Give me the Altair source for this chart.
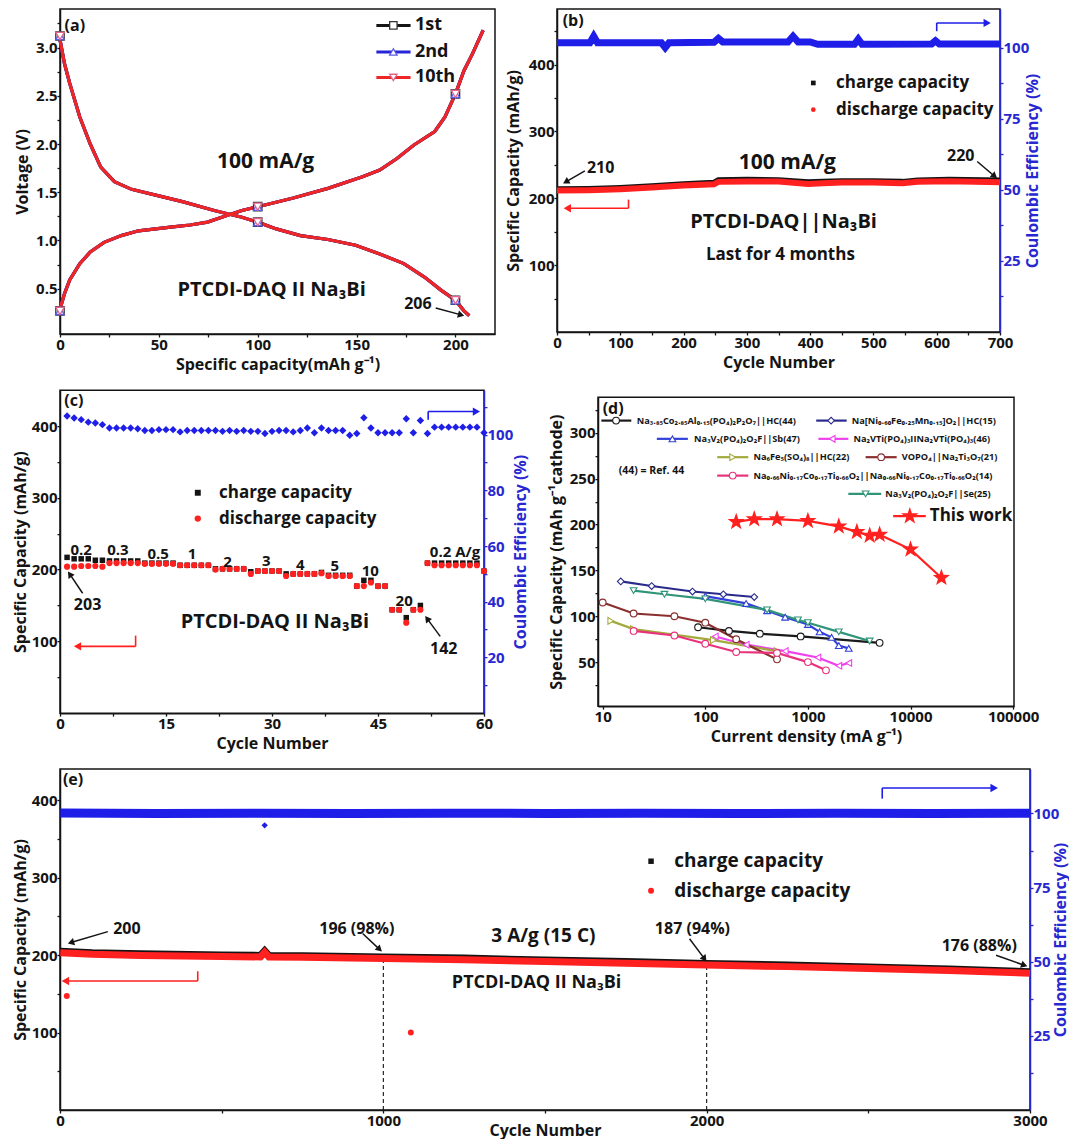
import math
import altair as alt
import pandas as pd

FONT = "Open Sans"
K = "#141414"
RED = "#ff2020"
BLUE = "#1e1ee8"
AXBLUE = "#2828d0"

# ---------------- panel (a) data ----------------
A_CYCLES = ["1st", "2nd", "10th"]
A_LINE_COLORS = ["#151515", "#2626d8", "#ee2626"]
A_MARK_STROKES = ["#333333", "#5b5be6", "#e0668e"]
A_SHAPES = ["square", "triangle-up", "triangle-down"]
A_CHG_CAP = [0, 2.3, 4.9, 10, 15.3, 22.3, 31, 39.7, 57, 65.8, 74.6, 83.3, 92, 100, 118, 135.5, 153, 161.7, 170.4, 179, 189.5, 194.7, 200, 204.3, 208.7, 214]
A_CHG_V = [0.29, 0.45, 0.59, 0.76, 0.88, 0.98, 1.05, 1.10, 1.14, 1.16, 1.19, 1.25, 1.31, 1.35, 1.44, 1.54, 1.66, 1.73, 1.85, 1.99, 2.13, 2.28, 2.52, 2.76, 2.94, 3.18]
A_DIS_CAP = [0, 2.3, 4.9, 10, 15.3, 20.6, 27.5, 36.2, 48.4, 62.4, 78, 92, 100, 109.4, 121.6, 135.5, 149.5, 161.7, 173.9, 184.3, 193, 200, 204.3, 207]
A_DIS_V = [3.08, 2.83, 2.63, 2.28, 2.00, 1.76, 1.61, 1.53, 1.47, 1.40, 1.31, 1.24, 1.19, 1.12, 1.05, 1.01, 0.95, 0.86, 0.76, 0.62, 0.48, 0.38, 0.27, 0.22]
A_MK_CAP = [0, 100, 200, 0, 100, 200]
A_MK_V = [0.27, 1.35, 2.52, 3.12, 1.19, 0.38]

# ---------------- panel (b) data ----------------
B_CYC = [0, 50, 100, 150, 200, 248, 255, 300, 350, 397, 420, 450, 500, 546, 570, 620, 700]
B_DIS = [211.5, 212, 213.5, 216, 219, 221, 224.5, 225, 225, 221.5, 222.5, 223.5, 223.5, 222.5, 224.5, 225.5, 224]
B_CHG = [213.5, 214, 215.5, 218, 221, 223, 227, 227.5, 227, 224, 224.5, 225.5, 225.5, 224.5, 226.5, 227.5, 226.5]
B_CE_CYC = [0, 52, 58, 64, 165, 171, 177, 248, 255, 262, 365, 373, 381, 400, 412, 470, 476, 482, 592, 598, 604, 700]
B_CE = [101.7, 101.7, 104.0, 101.7, 101.7, 100.0, 101.7, 101.9, 103.3, 102.0, 102.0, 104.0, 102.0, 102.0, 101.2, 101.2, 103.0, 101.2, 101.3, 102.4, 101.3, 101.3]

# ---------------- panel (c) data ----------------
C_CYC = list(range(1, 61))
C_DIS = [204, 204, 205, 205, 205, 204,
         209, 209, 209, 209, 209,
         208, 208, 208, 208, 208,
         206, 206, 206, 206, 206,
         200, 201, 201, 201, 201,
         194, 198, 198, 198, 198,
         191, 194, 194, 194, 194,
         195, 191, 191, 191, 191,
         177, 177, 182, 177, 177,
         144, 144, 126, 144, 144,
         209, 206, 206, 206, 206, 206, 206, 206, 198]
C_CHG = [217, 215, 215, 215, 213, 213,
         212, 212, 212, 212, 212,
         209, 209, 209, 209, 209,
         206, 206, 206, 206, 206,
         201, 201, 201, 201, 201,
         197, 198, 198, 198, 198,
         194, 194, 194, 194, 194,
         196, 192, 192, 192, 192,
         177, 185, 185, 177, 177,
         144, 144, 133, 144, 150,
         209, 209, 209, 209, 209, 209, 209, 209, 198]
C_CE = [106.7, 106.0, 105.4, 104.5, 104.2, 103.6, 102.4, 102.4, 102.4, 102.4,
        102.1, 101.5, 101.5, 101.8, 101.8, 101.8, 101.0, 101.5, 101.5, 101.5,
        101.5, 101.5, 101.2, 101.5, 101.2, 101.5, 101.2, 101.2, 100.4, 101.2,
        101.5, 101.5, 101.0, 101.5, 102.4, 100.7, 102.4, 101.5, 101.5, 101.5,
        99.8, 100.4, 106.1, 102.4, 100.7, 100.7, 100.7, 100.7, 105.7, 100.7,
        105.1, 100.4, 102.7, 102.7, 102.7, 102.7, 102.7, 102.7, 102.7, 100.7]
C_RATES = ["0.2", "0.3", "0.5", "1", "2", "3", "4", "5", "10", "20", "0.2 A/g"]

# ---------------- panel (d) data ----------------
D_NAMES = [
    "Na₃.₈₅Co₂.₈₅Al₀.₁₅(PO₄)₂P₂O₇||HC(44)",
    "Na[Ni₀.₆₀Fe₀.₂₅Mn₀.₁₅]O₂||HC(15)",
    "Na₃V₂(PO₄)₂O₂F||Sb(47)",
    "Na₂VTi(PO₄)₃IINa₂VTi(PO₄)₃(46)",
    "Na₆Fe₅(SO₄)₈||HC(22)",
    "VOPO₄||Na₂Ti₃O₇(21)",
    "Na₀.₆₆Ni₀.₁₇Co₀.₁₇Ti₀.₆₆O₂||Na₀.₆₆Ni₀.₁₇Co₀.₁₇Ti₀.₆₆O₂(14)",
    "Na₃V₂(PO₄)₂O₂F||Se(25)",
    "This work",
]
D_X = [
    [85, 170, 340, 850, 5000],
    [15, 30, 75, 150, 300],
    [100, 250, 400, 600, 1000, 1300, 1700, 2000, 2500],
    [125, 250, 600, 1250, 2000, 2500],
    [12, 20, 120, 500],
    [10, 20, 50, 100, 200, 500],
    [20, 50, 100, 200, 500, 1000, 1500],
    [20, 40, 100, 400, 800, 1000, 2000, 4000],
    [200, 300, 500, 1000, 2000, 3000, 4000, 5000, 10000, 20000],
]
D_Y = [
    [88, 84, 81, 78, 71],
    [138, 133, 127, 124, 121],
    [122, 114, 106, 99, 91, 83, 77, 68, 65],
    [78, 69, 62, 55, 46, 49],
    [95, 86, 74, 62],
    [115, 103, 100, 93, 75, 53],
    [84, 79, 70, 61, 60, 50, 41],
    [128, 124, 119, 107, 96, 93, 83, 73],
    [203, 206, 206, 204, 198, 192, 188, 189, 173, 142],
]
D_COLORS = ["#1a1a1a", "#2a2a8c", "#3040d8", "#f040ee", "#a3aa3c", "#8a2e2e", "#e8327c", "#2f9478", "#ff2020"]

# ---------------- panel (e) data ----------------
E_CYC = [1, 50, 100, 250, 500, 620, 633, 646, 750, 1000, 1250, 1500, 1750, 2000, 2250, 2500, 2750, 3000]
E_DIS = [203, 202, 201, 199.5, 198, 197.5, 203.5, 197.5, 197, 195.5, 194, 191.5, 189.5, 187, 185, 182.5, 180, 176.5]
E_CHG = [205, 204, 203, 201.5, 200, 199.5, 205.5, 199.5, 199, 197.5, 196, 193.5, 191.5, 189, 187, 184.5, 182, 178.5]
E_OUT_CYC = [21, 1085]
E_OUT_CAP = [147, 100]
E_CE_CYC = [1, 300, 600, 900, 1200, 1500, 1800, 2100, 2400, 2700, 3000]
E_CE = [100.2, 100.0, 100.1, 100.0, 100.1, 100.0, 100.1, 100.0, 100.1, 100.0, 100.1]
E_CE_OUT_CYC = [633]
E_CE_OUT = [96]
E_MARK_CYC = [1000, 2000]
E_MARK_CAP = [196, 187]

LBL = 15  # axis label font size


# ---------------- helpers ----------------
class P:
    """Holds the scales and axes of one panel (or one y-side of it)."""
    def __init__(self, xs, ys, xax, yax, sx, sy):
        self.xs, self.ys, self.xax, self.yax, self.sx, self.sy = xs, ys, xax, yax, sx, sy

    def x(self, f):
        return alt.X(f"{f}:Q", scale=self.xs, axis=self.xax)

    def y(self, f):
        return alt.Y(f"{f}:Q", scale=self.ys, axis=self.yax)


def texts(p, xs, ys, labels, sizes, align="center", color=K):
    df = pd.DataFrame({"x": xs, "y": ys, "t": labels, "fs": sizes})
    return alt.Chart(df).mark_text(align=align, baseline="middle", font=FONT,
                                   fontWeight="bold", color=color).encode(
        x=p.x("x"), y=p.y("y"), text="t:N", size=alt.Size("fs:Q", scale=None))


def points(p, xs, ys, shape, color, size, fill=None, sw=1.2):
    df = pd.DataFrame({"x": xs, "y": ys})
    if fill is None:
        m = alt.Chart(df).mark_point(shape=shape, filled=True, color=color, size=size, opacity=1)
    else:
        m = alt.Chart(df).mark_point(shape=shape, filled=True, fill=fill, stroke=color, strokeWidth=sw,
                                     size=size, opacity=1)
    return m.encode(x=p.x("x"), y=p.y("y"))


def line(p, xs, ys, color, width):
    df = pd.DataFrame({"x": xs, "y": ys, "i": range(len(xs))})
    return alt.Chart(df).mark_line(color=color, strokeWidth=width).encode(x=p.x("x"), y=p.y("y"), order="i:Q")


def arrows(p, segs, color=K, width=1.5, head=55):
    rows, heads = [], []
    r = 0.8 * math.sqrt(head) / 2
    for x1, y1, x2, y2, hh in segs:
        if hh:
            dxp = (x2 - x1) * p.sx
            dyp = -(y2 - y1) * p.sy
            L = math.hypot(dxp, dyp)
            ux, uy = dxp / L, dyp / L
            ang = math.degrees(math.atan2(ux, -uy)) % 360
            cx = x2 - ux * r / p.sx
            cy = y2 + uy * r / p.sy
            heads.append({"x": cx, "y": cy, "a": ang})
            rows.append({"x": x1, "y": y1, "x2": cx, "y2": cy})
        else:
            rows.append({"x": x1, "y": y1, "x2": x2, "y2": y2})
    out = [alt.Chart(pd.DataFrame(rows)).mark_rule(color=color, strokeWidth=width).encode(
        x=p.x("x"), y=p.y("y"), x2="x2:Q", y2="y2:Q")]
    if heads:
        out.append(alt.Chart(pd.DataFrame(heads)).mark_point(
            shape="triangle-up", filled=True, color=color, size=head, opacity=1).encode(
            x=p.x("x"), y=p.y("y"), angle=alt.Angle("a:Q", scale=None)))
    return out


def left_axis(title, values, every, title_x, fmt=None, expr=None):
    kw = dict(title=title, values=values, titleX=title_x, titleAngle=270, titleBaseline="bottom",
              labelExpr=expr or f"datum.value % {every} === 0 ? datum.label : ''")
    if fmt:
        kw["format"] = fmt
    return alt.Axis(**kw)


def right_axis(title, values, every, title_x):
    return alt.Axis(title=title, orient="right", values=values, titleX=title_x,
                    labelExpr=f"datum.value % {every} === 0 ? datum.label : ''",
                    labelColor=AXBLUE, titleColor=AXBLUE, domainColor=AXBLUE,
                    tickColor=AXBLUE, titleAngle=270, titleBaseline="top")


def bottom_axis(title, values, every, title_y=18, fmt="d", expr=None):
    kw = dict(title=title, values=values, titleY=title_y,
              labelExpr=expr or f"datum.value % {every} === 0 ? datum.label : ''")
    if fmt:
        kw["format"] = fmt
    return alt.Axis(**kw)


# ================= panel (a) =================
AW, AH = 435, 325
pA = P(alt.Scale(domain=[0, 220], nice=False, zero=False),
       alt.Scale(domain=[0.03, 3.4], nice=False, zero=False),
       bottom_axis("Specific capacity(mAh g⁻¹)", list(range(0, 225, 25)), 50, title_y=22),
       left_axis("Voltage (V)", [round(0.25 * i, 2) for i in range(1, 14)], 0, -30, fmt=".1f",
                 expr="abs(datum.value*2 - round(datum.value*2)) < 0.01 ? datum.label : ''"),
       AW / 220, AH / 3.37)

a_layers = []
for cyc, col in zip(A_CYCLES, A_LINE_COLORS):
    a_layers.append(line(pA, A_CHG_CAP, A_CHG_V, col, 3.2))
    a_layers.append(line(pA, A_DIS_CAP, A_DIS_V, col, 3.2))
for cyc, stc, shp in zip(A_CYCLES, A_MARK_STROKES, A_SHAPES):
    a_layers.append(points(pA, A_MK_CAP, A_MK_V, shp, stc, 70, fill="white", sw=1.3))
A_LEG_Y = [3.23, 2.955, 2.69]
for cyc, col, stc, shp, ly in zip(A_CYCLES, A_LINE_COLORS, A_MARK_STROKES, A_SHAPES, A_LEG_Y):
    a_layers.append(line(pA, [160.0, 177.3], [ly, ly], col, 3))
    a_layers.append(points(pA, [168.6], [ly], shp, stc, 55, fill="white", sw=1.3))
a_layers.append(texts(pA, [179.5] * 3, A_LEG_Y, A_CYCLES, [18, 18, 18], align="left"))
a_layers.append(texts(pA, [2.3], [3.22], ["(a)"], [16], align="left"))
a_layers.append(texts(pA, [104, 107, 181], [1.81, 0.49, 0.34], ["100 mA/g", "PTCDI-DAQ II Na₃Bi", "206"], [21, 20, 16]))
a_layers += arrows(pA, [(190, 0.30, 204.3, 0.22, True)])
pa = alt.layer(*a_layers).properties(width=AW, height=AH)

# ================= panel (b) =================
BW, BH = 443, 323
xb = alt.Scale(domain=[0, 700], nice=False, zero=False)
ax_xb = bottom_axis("Cycle Number", list(range(0, 750, 50)), 100, title_y=22)
pB = P(xb, alt.Scale(domain=[0, 483], nice=False, zero=False), ax_xb,
       left_axis("Specific Capacity (mAh/g)", list(range(50, 500, 50)), 100, -36), BW / 700, BH / 483)
pB2 = P(xb, alt.Scale(domain=[0, 113.6], nice=False, zero=False), ax_xb,
        right_axis("Coulombic Efficiency (%)", [12.5 * i for i in range(1, 9)], 25, 24), BW / 700, BH / 113.6)

b_left = [
    line(pB, B_CYC, B_CHG, K, 6),
    line(pB, B_CYC, B_DIS, RED, 6),
    points(pB, [405], [372.4], "square", K, 22),
    points(pB, [405], [332.5], "circle", RED, 22),
    texts(pB, [441, 441], [372.4, 332.5], ["charge capacity", "discharge capacity"], [17, 17], align="left"),
    texts(pB, [9], [465], ["(b)"], [16], align="left"),
    texts(pB, [69, 638, 364, 358, 353], [245, 262.5, 252, 164, 115],
          ["210", "220", "100 mA/g", "PTCDI-DAQ||Na₃Bi", "Last for 4 months"], [16, 16, 21, 20, 17]),
]
b_left += arrows(pB, [(44, 241, 10, 222.4, True), (664, 255, 695, 230, True)])
b_left += arrows(pB, [(113, 198, 113, 185, False), (113, 185, 11, 185, True)], color=RED, width=1.6, head=70)
b_right = [line(pB2, B_CE_CYC, B_CE, BLUE, 7)]
b_right += arrows(pB2, [(600, 105.8, 600, 108.7, False), (600, 108.7, 685, 108.7, True)], color=BLUE, width=1.6, head=70)
pb = alt.layer(alt.layer(*b_left), alt.layer(*b_right)).resolve_scale(y="independent").properties(width=BW, height=BH)

# ================= panel (c) =================
CW, CH = 424, 323
xc = alt.Scale(domain=[0, 60], nice=False, zero=False)
ax_xc = bottom_axis("Cycle Number", [7.5 * i for i in range(0, 9)], 15, fmt=None, title_y=22)
pC = P(xc, alt.Scale(domain=[0, 450], nice=False, zero=False), ax_xc,
       left_axis("Specific Capacity (mAh/g)", list(range(50, 450, 50)), 100, -32), CW / 60, CH / 450)
pC2 = P(xc, alt.Scale(domain=[0, 116], nice=False, zero=False), ax_xc,
        right_axis("Coulombic Efficiency (%)", list(range(10, 120, 10)), 20, 28), CW / 60, CH / 116)

c_left = [
    points(pC, C_CYC, C_CHG, "square", K, 30),
    points(pC, C_CYC, C_DIS, "circle", RED, 38),
    points(pC, [19.5], [307], "square", K, 35),
    points(pC, [19.5], [271], "circle", RED, 40),
    texts(pC, [22.5, 22.5], [307, 271], ["charge capacity", "discharge capacity"], [17, 17], align="left"),
    texts(pC, [0.6], [435], ["(c)"], [16], align="left"),
    texts(pC, [3.0, 8.2, 13.9, 18.7, 23.7, 29.2, 34.0, 38.9, 43.9, 48.7, 55.9],
          [227, 227, 221, 221, 210.7, 211.6, 206, 204.7, 198.6, 156.7, 224.2], C_RATES, [15] * 11),
    texts(pC, [3.9, 54.3, 30.4], [151, 90, 127], ["203", "142", "PTCDI-DAQ II Na₃Bi"], [16, 16, 20]),
]
c_left += arrows(pC, [(3.2, 167, 1.15, 197, True), (53.8, 107, 51.7, 135, True)])
c_left += arrows(pC, [(10.7, 108, 10.7, 93, False), (10.7, 93, 2.0, 93, True)], color=RED, width=1.6, head=70)
c_right = [points(pC2, C_CYC, C_CE, "diamond", BLUE, 55)]
c_right += arrows(pC2, [(52.1, 105.4, 52.1, 108.3, False), (52.1, 108.3, 59.4, 108.3, True)], color=BLUE, width=1.6, head=70)
pc = alt.layer(alt.layer(*c_left), alt.layer(*c_right)).resolve_scale(y="independent").properties(width=CW, height=CH)

# ================= panel (d) =================
DW, DH = 416, 309
pD = P(alt.Scale(type="log", domain=[9, 102000], nice=False),
       alt.Scale(domain=[2, 339], nice=False, zero=False),
       alt.Axis(title="Current density (mA g⁻¹)", values=[10, 100, 1000, 10000, 100000], format="d", titleY=22),
       left_axis("Specific Capacity (mAh g⁻¹cathode)", list(range(25, 350, 25)), 50, -34),
       1, 1)

star = []
for j in range(10):
    rr = 1.0 if j % 2 == 0 else 0.4
    t = math.radians(-90 + 36 * j)
    star.append(f"{rr * math.cos(t):.3f},{rr * math.sin(t):.3f}")
STAR = "M" + "L".join(star) + "Z"
D_SHAPES = ["circle", "diamond", "triangle-up", "triangle-left", "triangle-right", "circle", "circle", "triangle-down", STAR]
D_SIZES = [45] * 8 + [330]

D_LEG_X1 = [9.7, 1205, 33.7, 1265, 130.6, 3651, 130.6, 2477, 6775]
D_LEG_X2 = [19.0, 2388, 67.6, 2477, 262.5, 7328, 262.5, 5176, 14090]
D_LEG_XM = [13.5, 1683, 47.8, 1722, 185, 5176, 185, 3651, 9840]
D_LEG_XT = [21.5, 2673, 77.8, 2782, 295, 8228, 295, 5675, 15420]
D_LEG_Y = [313.4, 313.4, 293.5, 293.5, 273.5, 273.5, 253.4, 233.5, 209.2]
D_LEG_FS = [9.2] * 8 + [17]

d_layers = []
for si, nm in enumerate(D_NAMES):
    d_layers.append(line(pD, D_X[si], D_Y[si], D_COLORS[si], 2.2))
for si, nm in enumerate(D_NAMES):
    if si == 8:
        d_layers.append(points(pD, D_X[si], D_Y[si], STAR, D_COLORS[si], D_SIZES[si]))
    else:
        d_layers.append(points(pD, D_X[si], D_Y[si], D_SHAPES[si], D_COLORS[si], D_SIZES[si], fill="white", sw=1.1))
for si, nm in enumerate(D_NAMES):
    d_layers.append(line(pD, [D_LEG_X1[si], D_LEG_X2[si]], [D_LEG_Y[si], D_LEG_Y[si]], D_COLORS[si], 2.2))
    if si == 8:
        d_layers.append(points(pD, [D_LEG_XM[si]], [D_LEG_Y[si]], STAR, D_COLORS[si], D_SIZES[si]))
    else:
        d_layers.append(points(pD, [D_LEG_XM[si]], [D_LEG_Y[si]], D_SHAPES[si], D_COLORS[si], D_SIZES[si], fill="white", sw=1.1))
d_layers.append(texts(pD, D_LEG_XT, D_LEG_Y, D_NAMES, D_LEG_FS, align="left"))
d_layers.append(texts(pD, [14.3], [258.2], ["(44) = Ref. 44"], [10.5], align="left"))
d_layers.append(texts(pD, [10.0], [326], ["(d)"], [16], align="left"))
pdd = alt.layer(*d_layers).properties(width=DW, height=DH)

# ================= panel (e) =================
EW, EH = 970, 341
xe = alt.Scale(domain=[0, 3000], nice=False, zero=False)
ax_xe = bottom_axis("Cycle Number", list(range(0, 3500, 500)), 1000, title_y=12)
pE = P(xe, alt.Scale(domain=[0, 440], nice=False, zero=False), ax_xe,
       left_axis("Specific Capacity (mAh/g)", list(range(50, 450, 50)), 100, -32), EW / 3000, EH / 440)
pE2 = P(xe, alt.Scale(domain=[0, 115], nice=False, zero=False), ax_xe,
        right_axis("Coulombic Efficiency (%)", [12.5 * i for i in range(1, 9)], 25, 22), EW / 3000, EH / 115)

e_left = [
    alt.Chart(pd.DataFrame({"x": E_MARK_CYC, "y": [0, 0], "y2": E_MARK_CAP})).mark_rule(
        color=K, strokeWidth=1.1, strokeDash=[4, 3]).encode(x=pE.x("x"), y=pE.y("y"), y2="y2:Q"),
    line(pE, E_CYC, E_CHG, K, 7),
    line(pE, E_CYC, E_DIS, RED, 7),
    points(pE, E_OUT_CYC, E_OUT_CAP, "circle", RED, 35),
    points(pE, [1828], [321], "square", K, 30),
    points(pE, [1828], [283], "circle", RED, 35),
    texts(pE, [1900, 1900], [321, 283], ["charge capacity", "discharge capacity"], [19, 19], align="left"),
    texts(pE, [9], [425.5], ["(e)"], [16], align="left"),
    texts(pE, [207, 918, 1956, 2843, 1495, 1474], [234, 234, 234, 211, 224, 164],
          ["200", "196 (98%)", "187 (94%)", "176 (88%)", "3 A/g (15 C)", "PTCDI-DAQ II Na₃Bi"],
          [16, 16, 16, 16, 19, 18]),
]
e_left += arrows(pE, [(148, 230.2, 25, 215, True), (936, 227.7, 995, 204.7, True),
                      (1947, 221, 1999, 192, True), (2895, 199.6, 2991, 185.5, True)])
e_left += arrows(pE, [(426, 179, 426, 166.4, False), (426, 166.4, 6, 166.4, True)], color=RED, width=1.6, head=75)
e_right = [
    line(pE2, E_CE_CYC, E_CE, BLUE, 9),
    points(pE2, E_CE_OUT_CYC, E_CE_OUT, "diamond", BLUE, 40),
]
e_right += arrows(pE2, [(2543, 105, 2543, 108.6, False), (2543, 108.6, 2900, 108.6, True)], color=BLUE, width=1.6, head=75)
pe = alt.layer(alt.layer(*e_left), alt.layer(*e_right)).resolve_scale(y="independent").properties(width=EW, height=EH)

# ================= layout =================
row1 = alt.hconcat(pa, pb, spacing=8)
row2 = alt.hconcat(pc, pdd, spacing=18, center=True)
chart = alt.vconcat(row1, row2, pe, spacing=16).properties(
    padding={"left": 3, "top": 0, "right": 0, "bottom": 0})
chart = chart.configure_view(stroke=K, strokeWidth=1.5).configure_axis(
    grid=False, domainColor=K, domainWidth=1.5, tickColor=K, tickWidth=1.3, tickSize=3,
    labelFont=FONT, labelFontSize=LBL, labelFontWeight="bold", labelColor=K, labelPadding=0,
    titleFont=FONT, titleFontSize=16, titleFontWeight="bold", titleColor=K, titlePadding=1,
    labelFlush=False, labelOverlap=False)

chart.save("out.html", embed_options={"renderer": "svg", "actions": False})
